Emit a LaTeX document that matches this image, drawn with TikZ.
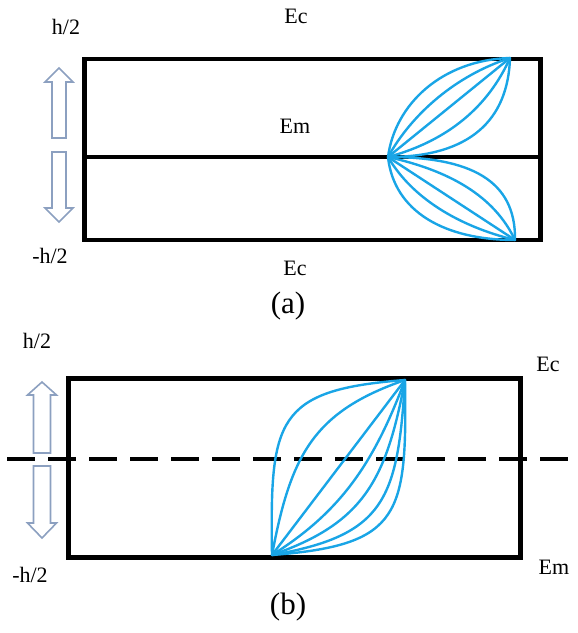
\documentclass[tikz,border=0pt]{standalone}
\usepackage{fontspec}
\setmainfont{Liberation Serif}
\definecolor{fgblue}{RGB}{25,165,230}
\definecolor{arrowc}{RGB}{140,160,192}
\begin{document}
\begin{tikzpicture}[x=1pt,y=-1pt,
  frame/.style={line width=4.5pt},
  grad/.style={draw=fgblue, line width=2.4pt, line cap=round},
  blockarr/.style={draw=arrowc, line width=1.6pt, fill=white, line join=miter},
  lbl/.style={font=\fontsize{22}{24}\selectfont, inner sep=0pt},
  capt/.style={font=\fontsize{31}{33}\selectfont, inner sep=0pt}]
\useasboundingbox (0,0) rectangle (578,633);

% ---------- panel (a) ----------
\draw[frame] (84.5,59) rectangle (540.5,240);
\draw[line width=4pt] (84.5,157) -- (540.5,157);
\coordinate (ac) at (388,157);
\coordinate (at) at (510,58);
\coordinate (ab) at (515,240);
% upper fan
\draw[grad] (ac) .. controls (395,104) and (442,60) .. (at);
\draw[grad] (ac) .. controls (411.8,114) and (455.7,75.5) .. (at);
\draw[grad] (ac) -- (at);
\draw[grad] (ac) .. controls (449.3,140.5) and (488.7,105.5) .. (at);
\draw[grad] (ac) .. controls (470,157) and (508,120) .. (at);
% lower fan
\draw[grad] (ac) .. controls (394,212) and (445,240) .. (ab);
\draw[grad] (ac) .. controls (412.2,198.3) and (458.8,226.2) .. (ab);
\draw[grad] (ac) -- (ab);
\draw[grad] (ac) .. controls (450.2,170.8) and (494.3,196.2) .. (ab);
\draw[grad] (ac) .. controls (470,157) and (516,180) .. (ab);

\draw[blockarr] (59,68) -- (73,82) -- (66,82) -- (66,138) -- (52,138) -- (52,82) -- (45,82) -- cycle;
\draw[blockarr] (52,152) -- (66,152) -- (66,208) -- (73,208) -- (59,222) -- (45,208) -- (52,208) -- cycle;

\node[lbl] (ahp) at (66,27) {h/2};
\node[lbl] (ahm) at (50,256) {-h/2};
\node[lbl] (aec1) at (296,16) {Ec};
\node[lbl] (aem) at (295,126) {Em};
\node[lbl] (aec2) at (295,268) {Ec};
\node[capt] (acap) at (288,306) {(a)};

% ---------- panel (b) ----------
\draw[line width=5pt] (68,378) rectangle (520,557);
\draw[line width=4pt, dash pattern=on 28pt off 13pt] (7,459) -- (578,459);
\coordinate (bb) at (272,555);
\coordinate (bt) at (405,380);
\draw[grad] (bb) .. controls (270,420) and (275,390) .. (bt);
\draw[grad] (bb) .. controls (290.8,454.5) and (313.6,411.7) .. (bt);
\draw[grad] (bb) -- (bt);
\draw[grad] (bb) .. controls (342.0,511.2) and (374.6,461.3) .. (bt);
\draw[grad] (bb) .. controls (363.4,523.3) and (386.2,480.5) .. (bt);
\draw[grad] (bb) .. controls (384.9,535.3) and (397.7,499.7) .. (bt);
\draw[grad] (bb) .. controls (402,545) and (407,515) .. (bt);

\draw[blockarr] (42,382) -- (56.5,395) -- (50.5,395) -- (50.5,453) -- (33.5,453) -- (33.5,395) -- (27.5,395) -- cycle;
\draw[blockarr] (33.5,466) -- (50.5,466) -- (50.5,523) -- (56.5,523) -- (42,538) -- (27.5,523) -- (33.5,523) -- cycle;

\node[lbl] (bhp) at (37,341) {h/2};
\node[lbl] (bhm) at (30,575) {-h/2};
\node[lbl] (bec) at (548,364) {Ec};
\node[lbl] (bem) at (554,567) {Em};
\node[capt] (bcap) at (288,607) {(b)};
\end{tikzpicture}
\end{document}
